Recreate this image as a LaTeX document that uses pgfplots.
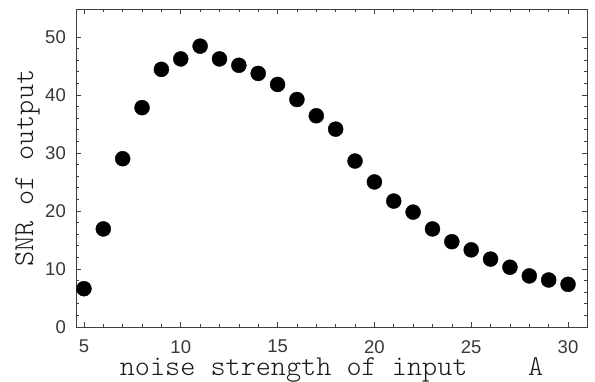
\documentclass[border=0pt]{standalone}
\usepackage{fontspec}
\setmainfont{Liberation Sans}
\newfontfamily\lmlight{Latin Modern Mono Light}
\usepackage{pgfplots}
\pgfplotsset{compat=1.18}
\begin{document}
\begin{tikzpicture}
\begin{axis}[
  at={(0,0)}, anchor=south west,
  scale only axis, width=511pt, height=318pt,
  xmin=4.59, xmax=30.98, ymin=0, ymax=54.8,
  xtick={5,10,...,30}, ytick={0,10,...,50},
  minor x tick num=4, minor y tick num=4,
  tick align=inside,
  major tick length=5pt, minor tick length=2.6pt,
  axis line style={black!75, line width=0.8pt},
  every tick/.style={black!75, line width=0.6pt},
  /pgf/number format/assume math mode=true,
  tick label style={font=\fontsize{18.5}{20}\selectfont, text=black!78},
  xticklabel style={anchor=north, inner sep=0pt, yshift=-13pt},
  yticklabel style={anchor=east, inner sep=0pt, xshift=-10pt},
  xlabel={noise strength of input~~~~A},
  ylabel={SNR of output},
  label style={font=\lmlight\fontsize{28.8}{30}\selectfont, text=black!90, inner sep=0pt},
  xlabel style={at={(axis description cs:0.5,-0.151)}, anchor=base},
  ylabel style={at={(axis description cs:-0.0841,0.5)}, anchor=base},
]
\addplot[only marks, mark=*, mark size=7.5pt, color=black] coordinates {
(5,6.6) (6,16.9) (7,29.0) (8,37.8) (9,44.4) (10,46.2) (11,48.4) (12,46.2)
(13,45.1) (14,43.7) (15,41.8) (16,39.2) (17,36.4) (18,34.1) (19,28.6)
(20,25.0) (21,21.7) (22,19.8) (23,16.9) (24,14.7) (25,13.3) (26,11.7)
(27,10.3) (28,8.8) (29,8.1) (30,7.35)
};
\end{axis}
\pgfresetboundingbox
\path[use as bounding box] (-76pt,-54pt) rectangle (519pt,327pt);
\end{tikzpicture}
\end{document}
